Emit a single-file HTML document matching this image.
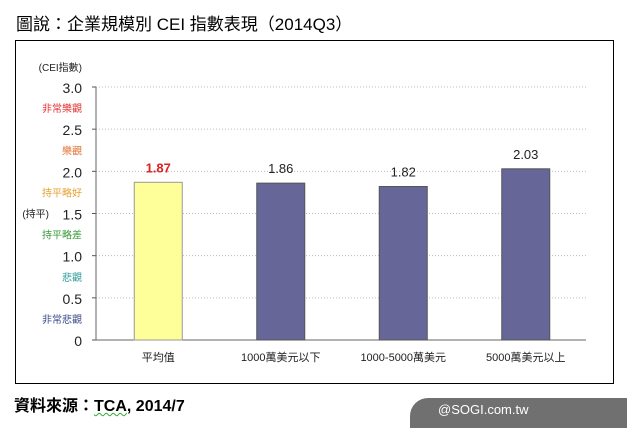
<!DOCTYPE html>
<html><head><meta charset="utf-8"><style>
body{margin:0;width:627px;height:422px;background:#fff;overflow:hidden;font-family:"Liberation Sans","Noto Sans CJK TC",sans-serif;position:relative}
.t{position:absolute;white-space:nowrap}
</style></head><body>
<div class="t" style="left:16px;top:10px;font-size:17px;color:#000">圖說：企業規模別 CEI 指數表現（2014Q3）</div>
<div style="position:absolute;left:15px;top:40px;width:597px;height:342px;border:1px solid #000"></div>
<svg id="c" width="627" height="422" style="position:absolute;left:0;top:0" font-family="Liberation Sans, Noto Sans CJK TC, sans-serif"></svg>
<div class="t" style="left:14px;top:392px;font-size:16px;font-weight:bold;color:#000">資料來源：<span style="text-decoration:underline wavy #3a3;text-decoration-thickness:1px">TCA</span>, 2014/7</div>
<div style="position:absolute;left:410px;top:398px;width:230px;height:30px;background:#707070;border-top-left-radius:18px"></div>
<div class="t" style="left:438px;top:402px;font-size:13px;color:#fff">@SOGI.com.tw</div>
<script>
const categories=["平均值","1000萬美元以下","1000-5000萬美元","5000萬美元以上"];
const values=[1.87,1.86,1.82,2.03];
const ticks=[0,0.5,1.0,1.5,2.0,2.5,3.0];
const bandLabels=["非常悲觀","悲觀","持平略差","持平略好","樂觀","非常樂觀"];
const bandColors=["#3a4a8a","#2a9a9a","#3a9a3a","#e8a030","#e07030","#e03030"];
const svg=document.getElementById('c');const NS='http://www.w3.org/2000/svg';
const x0=96,x1=586,yb=340,yt=87;
const y=v=>yb-(v-0)/(3-0)*(yb-yt);
const bw=(x1-x0)/categories.length;
const xc=i=>x0+bw*(i+0.5)+1;
function mk(t,a,txt){const e=document.createElementNS(NS,t);for(const k in a)e.setAttribute(k,a[k]);if(txt!=null)e.textContent=txt;svg.appendChild(e);return e;}
ticks.forEach(v=>{
 if(v>0){const g=mk('line',{x1:x0,x2:x1,y1:y(v),y2:y(v),stroke:'#bbb','stroke-dasharray':'1,2'});
 
 }
 const tk=mk('line',{x1:x0-4,x2:x0,y1:y(v),y2:y(v),stroke:'#555'});
 
 
 const l=mk('text',{x:82,y:y(v)+6,'text-anchor':'end','font-size':14,fill:'#222'},v===0?'0':v.toFixed(1));
 
 
});
bandLabels.forEach((b,i)=>{
 const t=mk('text',{x:82,y:y(i*0.5+0.25)+4,'text-anchor':'end','font-size':10,fill:bandColors[i]},b);
 
 
});
const p=mk('text',{x:49,y:y(1.5)+4,'font-size':10,fill:'#222','text-anchor':'end'},'(持平)');


const yt2=mk('text',{x:82,y:71,'text-anchor':'end','font-size':10,fill:'#222'},'(CEI指數)');


const ya=mk('line',{x1:x0,x2:x0,y1:yt,y2:yb,stroke:'#666'});


const xa=mk('line',{x1:x0,x2:x1,y1:yb,y2:yb,stroke:'#666'});


values.forEach((v,i)=>{
 const r=mk('rect',{x:xc(i)-24,y:y(v),width:48,height:yb-y(v),fill:i===0?'#ffff99':'#666699',stroke:i===0?'#999':'#555'});
 
 
 const t=mk('text',{x:xc(i),y:y(v)-10,'text-anchor':'middle','font-size':13,fill:i===0?'#e02020':'#222','font-weight':i===0?'bold':'normal'},v.toFixed(2));
 
 
 const c=mk('text',{x:xc(i),y:361,'text-anchor':'middle','font-size':11,fill:'#222'},categories[i]);
 
 
});
</script>
</body></html>
